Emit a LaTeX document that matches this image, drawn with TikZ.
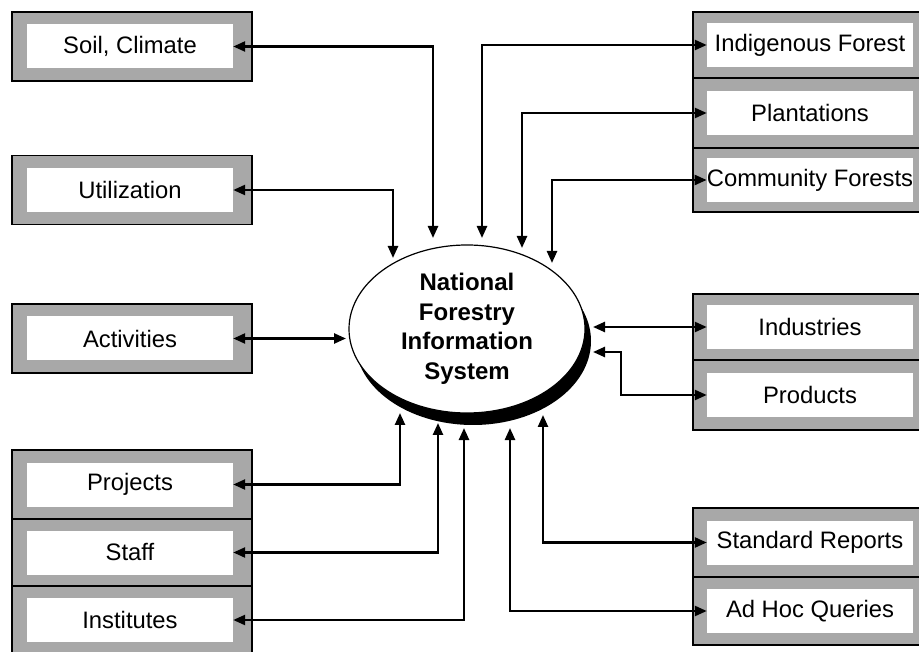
\documentclass[tikz,border=0pt]{standalone}
\usepackage{fontspec}
\setmainfont{Liberation Sans}
\usetikzlibrary{arrows.meta,shapes.geometric}
\definecolor{dither}{HTML}{A8A8A8}
\tikzset{
  outerbox/.style={draw=black, line width=1.6pt, fill=dither, inner sep=0pt},
  labelbox/.style={fill=white, inner sep=0pt, minimum width=206pt, minimum height=44pt,
    font=\fontsize{23.8}{28}\selectfont},
  link/.style={line width=2.4pt, {Triangle[length=12pt,width=10pt]}-{Triangle[length=12pt,width=10pt]}},
}
\begin{document}
\begin{tikzpicture}[x=1pt,y=-1pt]
\useasboundingbox (0,0) rectangle (919,652);
% ---------- left boxes ----------
\node[outerbox, minimum width=240pt, minimum height=69pt] (soilO) at (132,46.5) {};
\node[labelbox] (soil) at (130,46.5) {Soil, Climate};
\node[outerbox, minimum width=240pt, minimum height=69pt] (utilO) at (132,190) {};
\node[labelbox] (util) at (130,190) {Utilization};
\node[outerbox, minimum width=240pt, minimum height=69pt] (actO) at (132,338.5) {};
\node[labelbox] (act) at (130,338.5) {Activities};
\node[outerbox, minimum width=240pt, minimum height=69pt] (projO) at (132,484.5) {};
\node[labelbox] (proj) at (130,484.5) {Projects};
\node[outerbox, minimum width=240pt, minimum height=67pt] (staffO) at (132,552.5) {};
\node[labelbox] (staff) at (130,552.5) {Staff};
\node[outerbox, minimum width=240pt, minimum height=68pt] (instO) at (132,620) {};
\node[labelbox] (inst) at (130,620) {Institutes};
% ---------- right boxes ----------
\node[outerbox, minimum width=228pt, minimum height=66pt] (indfO) at (807,45) {};
\node[labelbox] (indf) at (810,45) {Indigenous Forest};
\node[outerbox, minimum width=228pt, minimum height=70pt] (plantO) at (807,113) {};
\node[labelbox] (plant) at (810,113) {Plantations};
\node[outerbox, minimum width=228pt, minimum height=64pt] (commO) at (807,180) {};
\node[labelbox] (comm) at (810,180) {Community Forests};
\node[outerbox, minimum width=228pt, minimum height=66pt] (indsO) at (807,327) {};
\node[labelbox] (inds) at (810,327) {Industries};
\node[outerbox, minimum width=228pt, minimum height=70pt] (prodO) at (807,395) {};
\node[labelbox] (prod) at (810,395) {Products};
\node[outerbox, minimum width=228pt, minimum height=69pt] (stdO) at (807,542.5) {};
\node[labelbox] (std) at (810,542.5) {Standard Reports};
\node[outerbox, minimum width=228pt, minimum height=68pt] (adhO) at (807,611) {};
\node[labelbox] (adh) at (810,611) {Ad Hoc Queries};
% ---------- central ellipse ----------
\fill[black] (473,341) ellipse [x radius=118pt, y radius=84pt];
\node[ellipse, draw=black, line width=1.2pt, fill=white, minimum width=236pt, minimum height=168pt,
  inner sep=0pt, align=center, font=\bfseries\fontsize{24}{29.5}\selectfont] (nfis) at (467,329)
  {National\\Forestry\\Information\\System};
% ---------- arrow end points near the ellipse ----------
\coordinate (tSoil) at (433,238);
\coordinate (tUtil) at (393,258);
\coordinate (tIndf) at (482,238);
\coordinate (tPlant) at (522,248);
\coordinate (tComm) at (552,263);
\coordinate (tAct) at (346,338.5);
\coordinate (tInds) at (593,327);
\coordinate (tProd) at (593,352);
\coordinate (tProj) at (400,413);
\coordinate (tStaff) at (438,423);
\coordinate (tInst) at (464,428);
\coordinate (tAdh) at (510,428);
\coordinate (tStd) at (543,415);
% ---------- connectors ----------
\draw[link] (soil.east) -| (tSoil);
\draw[link] (util.east) -| (tUtil);
\draw[link] (indf.west) -| (tIndf);
\draw[link] (plant.west) -| (tPlant);
\draw[link] (comm.west) -| (tComm);
\draw[link] (act.east) -- (tAct);
\draw[link] (inds.west) -- (tInds);
\draw[link] (tProd) -- ++(28,0) |- (prod.west);
\draw[link] (proj.east) -| (tProj);
\draw[link] (staff.east) -| (tStaff);
\draw[link] (inst.east) -| (tInst);
\draw[link] (adh.west) -| (tAdh);
\draw[link] (std.west) -| (tStd);
\end{tikzpicture}
\end{document}
